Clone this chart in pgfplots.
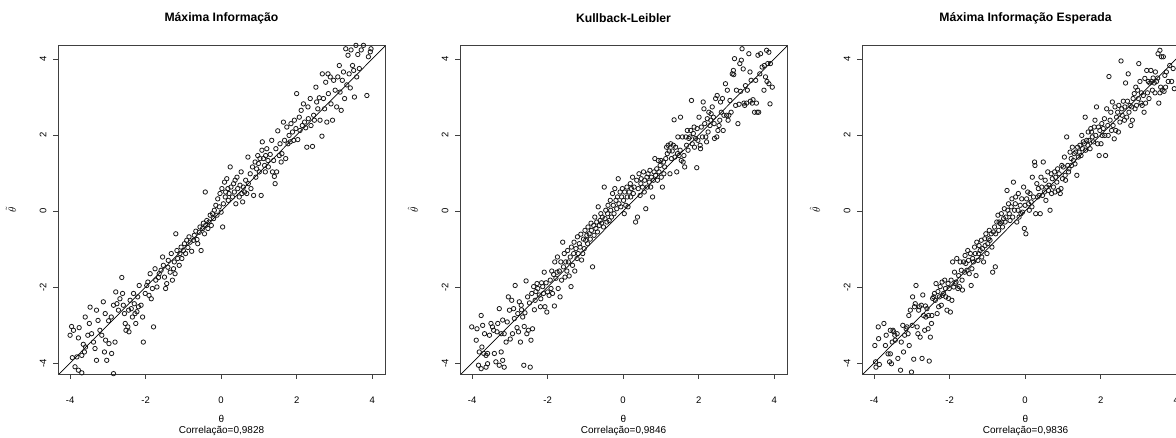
\documentclass[border=0pt]{standalone}
\usepackage{fontspec}
\setmainfont{Liberation Sans}
\usepackage{pgfplots}
\pgfplotsset{compat=1.18}
\pgfplotsset{
 panel/.style={
  scale only axis, width=327pt, height=329pt,
  xmin=-4.32, xmax=4.34, ymin=-4.29, ymax=4.37,
  xtick={-4,-2,0,2,4}, ytick={-4,-2,0,2,4},
  tick align=outside, tick pos=left, major tick length=5pt,
  axis line style={black!75, line width=0.8pt},
  every tick/.style={black!75, line width=0.8pt},
  /pgf/number format/assume math mode=true,
  xticklabel style={font=\fontsize{9.5}{11}\selectfont},
  yticklabel style={font=\fontsize{9.5}{11}\selectfont, rotate=90, anchor=south},
  xticklabel shift=14pt,
  yticklabel shift=3pt,
  title style={font=\bfseries\fontsize{12.2}{14}\selectfont, at={(axis description cs:0.5,1)}, anchor=center, yshift=21pt},
  xlabel style={font=\fontsize{10}{11}\selectfont, at={(axis description cs:0.5,0)}, anchor=north, yshift=-38pt, align=center},
  ylabel style={font=\fontsize{11}{12}\selectfont, at={(axis description cs:-0.144,0.5)}, anchor=center},
  anchor=south west,
 },
 pts/.style={only marks, mark=o, mark size=2.2pt, mark options={black!90, line width=0.8pt}},
 diag/.style={black, line width=0.7pt},
}
\begin{document}
\begin{tikzpicture}
\path[use as bounding box] (0,0) rectangle (1176pt,438pt);
% Panel 1
\begin{axis}[panel, at={(58pt,64pt)}, title={Máxima Informação},
  xlabel={θ\\Correlação=0,9828}, ylabel={$\tilde{\theta}$}]
\addplot[diag] coordinates {(-5,-5) (5,5)};
\addplot[pts] coordinates {
(-4.00,-3.27) (-3.96,-3.04) (-3.91,-3.14) (-3.76,-3.07) (-3.78,-3.34) (-3.94,-3.86) (-3.87,-4.10) (-3.82,-3.84) (-3.69,-3.80) (-3.62,-3.71) (-3.59,-3.58) (-3.65,-3.51) (-3.60,-2.79) (-3.47,-2.53) (-3.49,-2.96) (-3.53,-3.27) (-3.43,-3.23) (-3.38,-3.45) (-3.34,-3.62) (-3.30,-3.93) (-3.30,-2.61) (-3.26,-2.88) (-3.21,-3.14) (-3.16,-3.27) (-3.09,-3.71) (-3.03,-3.93) (-3.06,-3.40) (-2.97,-3.49) (-2.90,-3.75) (-2.81,-3.45) (-3.12,-2.39) (-3.07,-2.70) (-2.98,-2.89) (-2.91,-2.79) (-2.85,-2.48) (-2.79,-2.13) (-2.76,-2.44) (-2.72,-2.61) (-2.68,-2.31) (-2.63,-1.75) (-2.61,-2.17) (-2.59,-2.48) (-2.56,-2.70) (-2.54,-2.96) (-2.52,-3.14) (-2.47,-3.05) (-2.44,-3.18) (-2.41,-2.35) (-2.38,-2.57) (-2.35,-2.79) (-2.32,-2.17) (-2.30,-2.44) (-2.26,-2.96) (-2.23,-2.65) (-2.21,-2.26) (-2.17,-1.96) (-2.12,-2.48) (-2.08,-2.79) (-2.06,-3.45) (-2.19,-2.52) (-2.28,-2.70) (-2.45,-2.61) (-2.01,-2.17) (-1.97,-1.96) (-1.94,-1.87) (-1.91,-2.22) (-1.88,-1.65) (-1.85,-2.31) (-1.82,-2.04) (-1.79,-3.05) (-1.75,-1.52) (-1.73,-1.82) (-1.70,-2.00) (-1.66,-1.75) (-1.64,-1.65) (-1.59,-1.56) (-1.55,-1.21) (-1.53,-1.43) (-1.50,-1.74) (-1.47,-2.04) (-1.44,-1.91) (-1.41,-1.48) (-1.40,-1.30) (-1.35,-1.61) (-1.32,-1.12) (-1.29,-1.82) (-1.26,-1.52) (-1.24,-1.34) (-1.22,-1.65) (-1.20,-0.60) (-1.17,-1.04) (-1.15,-1.25) (-1.11,-1.43) (-1.09,-1.12) (-1.06,-0.95) (-1.04,-1.25) (-1.00,-1.04) (-0.97,-0.86) (-0.94,-1.12) (-0.91,-0.77) (-0.88,-0.96) (-0.85,-0.68) (-0.82,-0.82) (-0.78,-1.06) (-0.73,-0.77) (-0.71,-0.64) (-0.67,-0.53) (-0.64,-0.75) (-0.62,-0.86) (-0.58,-0.56) (-0.56,-0.42) (-0.53,-1.04) (-0.49,-0.46) (-0.47,-0.32) (-0.44,-0.60) (-0.41,-0.38) (-0.38,-0.25) (-0.35,-0.46) (-0.32,-0.29) (-0.29,-0.11) (-0.26,-0.38) (-0.23,-0.07) (-0.20,-0.20) (-0.18,0.02) (-0.42,0.50) (-0.14,0.15) (-0.11,-0.11) (-0.09,0.32) (-0.05,0.11) (-0.03,0.46) (0.00,-0.03) (0.02,0.59) (0.04,-0.42) (0.06,0.19) (0.09,0.76) (0.11,0.37) (0.12,0.50) (0.15,0.85) (0.18,0.59) (0.19,0.28) (0.21,0.46) (0.24,1.16) (0.26,0.63) (0.30,0.37) (0.33,0.72) (0.35,0.50) (0.37,0.81) (0.39,0.19) (0.42,0.89) (0.44,0.59) (0.48,0.37) (0.50,0.68) (0.53,1.03) (0.55,0.46) (0.57,0.24) (0.59,0.63) (0.62,0.50) (0.65,0.81) (0.68,0.46) (0.71,1.42) (0.72,0.72) (0.77,0.98) (0.79,0.59) (0.83,1.16) (0.86,0.41) (0.90,1.29) (0.92,0.89) (0.94,1.11) (0.97,1.46) (0.99,1.25) (1.01,1.03) (1.03,1.38) (1.06,0.41) (1.08,1.60) (1.09,1.82) (1.12,1.38) (1.15,1.20) (1.17,1.03) (1.18,1.46) (1.21,1.64) (1.24,1.33) (1.25,1.16) (1.30,1.49) (1.34,1.86) (1.36,1.03) (1.39,1.33) (1.41,0.91) (1.43,0.72) (1.45,1.64) (1.47,1.03) (1.50,2.11) (1.54,1.46) (1.56,1.77) (1.59,1.29) (1.61,1.51) (1.65,2.34) (1.68,1.86) (1.71,1.38) (1.74,2.21) (1.77,1.77) (1.80,1.99) (1.83,1.82) (1.85,2.30) (1.89,2.08) (1.92,1.86) (1.94,2.39) (1.98,2.17) (2.00,3.09) (2.03,1.88) (2.07,2.47) (2.09,2.12) (2.12,2.65) (2.15,2.25) (2.18,2.82) (2.21,2.34) (2.24,2.19) (2.27,1.68) (2.30,2.74) (2.31,2.43) (2.36,2.96) (2.38,2.25) (2.42,1.70) (2.45,2.52) (2.47,2.39) (2.51,3.26) (2.53,2.87) (2.56,2.69) (2.60,2.98) (2.62,2.39) (2.67,1.97) (2.68,3.61) (2.71,2.96) (2.74,2.69) (2.77,3.39) (2.80,2.34) (2.83,3.61) (2.84,3.09) (2.89,3.53) (2.91,2.82) (2.95,2.39) (2.98,3.44) (3.02,3.18) (3.06,2.74) (3.09,3.53) (3.13,3.83) (3.15,3.13) (3.18,2.65) (3.21,3.44) (3.24,3.66) (3.27,2.96) (3.30,4.27) (3.33,3.32) (3.36,4.10) (3.39,3.61) (3.42,3.24) (3.44,4.24) (3.48,3.83) (3.51,3.70) (3.53,3.00) (3.57,4.36) (3.59,3.53) (3.62,4.12) (3.66,3.75) (3.71,4.24) (3.77,4.36) (3.86,3.04) (3.90,4.06) (3.95,4.19) (3.97,4.27) (-3.78,-4.19) (-3.69,-4.26) (-2.85,-4.28)
};
\end{axis}
% Panel 2
\begin{axis}[panel, at={(460pt,64pt)}, title={Kullback-Leibler},
  xlabel={θ\\Correlação=0,9846}, ylabel={$\hat{\theta}$}]
\addplot[diag] coordinates {(-5,-5) (5,5)};
\addplot[pts] coordinates {
(-4.01,-3.05) (-3.89,-3.40) (-3.87,-3.10) (-3.76,-2.75) (-3.72,-3.01) (-3.81,-3.71) (-3.74,-3.58) (-3.69,-3.75) (-3.63,-3.80) (-3.59,-3.75) (-3.83,-4.06) (-3.76,-4.15) (-3.63,-4.11) (-3.59,-4.02) (-3.67,-3.23) (-3.54,-3.27) (-3.50,-2.96) (-3.46,-3.05) (-3.43,-3.14) (-3.41,-3.75) (-3.37,-3.97) (-3.28,-4.06) (-3.23,-3.71) (-3.19,-3.93) (-3.15,-4.11) (-3.34,-3.18) (-3.32,-2.96) (-3.28,-2.57) (-3.23,-3.23) (-3.19,-2.87) (-3.15,-3.23) (-3.10,-3.45) (-3.07,-2.92) (-3.04,-2.26) (-3.01,-2.61) (-2.99,-3.37) (-2.95,-2.35) (-2.93,-3.23) (-2.90,-2.57) (-2.88,-2.83) (-2.86,-1.96) (-2.81,-3.07) (-2.79,-2.70) (-2.77,-3.18) (-2.75,-2.39) (-2.72,-3.45) (-2.70,-2.48) (-2.69,-2.60) (-2.66,-2.79) (-2.63,-4.06) (-2.62,-3.04) (-2.60,-2.68) (-2.57,-1.84) (-2.55,-3.23) (-2.53,-2.26) (-2.51,-3.14) (-2.48,-2.42) (-2.46,-4.11) (-2.44,-3.40) (-2.42,-2.17) (-2.40,-3.10) (-2.37,-1.99) (-2.35,-2.60) (-2.33,-2.35) (-2.31,-2.12) (-2.28,-1.91) (-2.26,-2.04) (-2.22,-2.21) (-2.19,-2.52) (-2.18,-2.31) (-2.16,-1.89) (-2.13,-1.99) (-2.11,-2.17) (-2.09,-1.61) (-2.07,-2.52) (-2.04,-1.89) (-2.02,-2.66) (-2.00,-2.13) (-1.96,-2.22) (-1.93,-1.82) (-1.91,-2.04) (-1.89,-1.58) (-1.87,-2.17) (-1.84,-1.67) (-1.82,-2.50) (-1.81,-1.34) (-1.78,-1.77) (-1.75,-1.61) (-1.74,-1.21) (-1.72,-2.04) (-1.69,-1.58) (-1.67,-2.26) (-1.65,-1.34) (-1.63,-1.82) (-1.60,-0.82) (-1.58,-1.47) (-1.56,-1.12) (-1.54,-1.74) (-1.52,-1.34) (-1.49,-1.58) (-1.47,-1.04) (-1.45,-1.34) (-1.43,-1.71) (-1.40,-1.21) (-1.38,-1.99) (-1.37,-0.95) (-1.34,-1.43) (-1.31,-1.12) (-1.30,-0.82) (-1.28,-1.58) (-1.25,-0.99) (-1.22,-1.25) (-1.21,-0.68) (-1.19,-1.12) (-1.16,-0.86) (-1.14,-0.95) (-1.12,-0.61) (-1.10,-1.29) (-1.07,-1.12) (-1.05,-0.74) (-1.03,-0.99) (-1.01,-0.51) (-0.99,-0.77) (-0.96,-0.64) (-0.94,-0.86) (-0.93,-0.42) (-0.90,-0.60) (-0.87,-0.74) (-0.85,-0.32) (-0.84,-0.51) (-0.81,-1.47) (-0.78,-0.38) (-0.77,-0.64) (-0.75,-0.16) (-0.72,-0.46) (-0.70,-0.29) (-0.68,-0.55) (-0.66,0.11) (-0.63,-0.38) (-0.61,-0.25) (-0.59,-0.07) (-0.57,-0.32) (-0.55,-0.16) (-0.52,-0.42) (-0.50,0.63) (-0.48,-0.20) (-0.46,0.02) (-0.43,-0.29) (-0.41,-0.07) (-0.40,0.15) (-0.37,-0.25) (-0.34,0.28) (-0.33,0.02) (-0.31,-0.16) (-0.28,0.46) (-0.26,0.15) (-0.24,-0.07) (-0.22,0.59) (-0.19,0.28) (-0.17,0.06) (-0.15,0.37) (-0.13,0.85) (-0.11,0.19) (-0.08,0.50) (-0.06,0.11) (-0.04,0.37) (-0.02,0.59) (0.01,0.28) (0.03,-0.07) (0.04,0.50) (0.07,0.15) (0.10,0.63) (0.11,0.37) (0.13,0.11) (0.16,0.50) (0.19,0.72) (0.20,0.37) (0.22,0.59) (0.25,0.89) (0.27,0.46) (0.29,0.63) (0.33,-0.29) (0.36,0.81) (0.38,-0.16) (0.40,0.59) (0.42,0.98) (0.45,0.41) (0.47,0.72) (0.48,0.85) (0.51,0.63) (0.54,1.03) (0.56,0.50) (0.57,0.81) (0.60,0.06) (0.63,0.89) (0.64,0.63) (0.66,0.98) (0.69,0.76) (0.71,1.07) (0.73,0.63) (0.75,0.89) (0.78,0.37) (0.80,0.81) (0.82,1.03) (0.84,1.38) (0.86,0.94) (0.89,1.11) (0.91,0.81) (0.93,1.33) (0.95,1.03) (0.98,1.20) (1.00,1.33) (1.01,0.89) (1.04,0.63) (1.07,1.29) (1.08,0.98) (1.10,1.16) (1.13,1.38) (1.15,1.68) (1.17,1.51) (1.19,1.73) (1.22,1.58) (1.24,0.98) (1.26,1.77) (1.28,1.38) (1.30,1.58) (1.33,1.73) (1.35,2.40) (1.37,1.42) (1.39,1.68) (1.42,1.03) (1.44,1.51) (1.45,1.95) (1.48,1.46) (1.51,1.60) (1.52,2.47) (1.54,1.33) (1.57,1.95) (1.59,1.29) (1.61,1.46) (1.63,1.16) (1.66,1.95) (1.68,1.73) (1.70,2.12) (1.72,1.60) (1.74,1.91) (1.77,1.95) (1.79,2.12) (1.81,2.91) (1.83,1.77) (1.86,2.04) (1.88,2.21) (1.89,1.68) (1.92,1.91) (1.95,1.14) (1.96,2.17) (1.98,1.86) (2.01,2.47) (2.04,1.73) (2.05,1.64) (2.07,2.21) (2.10,1.95) (2.12,2.87) (2.14,2.69) (2.16,2.30) (2.19,1.95) (2.21,1.82) (2.23,2.43) (2.25,2.08) (2.27,2.60) (2.30,2.25) (2.32,2.39) (2.33,2.56) (2.36,2.74) (2.39,2.47) (2.41,2.30) (2.42,1.91) (2.45,2.96) (2.48,1.95) (2.49,3.04) (2.51,2.12) (2.54,2.25) (2.56,2.39) (2.58,2.87) (2.60,2.60) (2.63,2.96) (2.65,2.12) (2.67,2.52) (2.71,3.35) (2.74,2.52) (2.76,3.18) (2.78,2.39) (2.80,2.52) (2.83,2.91) (2.86,2.60) (2.89,3.61) (2.92,3.70) (2.93,3.59) (2.95,4.01) (2.98,2.78) (3.00,3.18) (3.04,2.30) (3.07,2.81) (3.09,3.88) (3.11,3.15) (3.13,3.97) (3.15,4.27) (3.18,3.74) (3.20,2.84) (3.22,2.78) (3.24,3.30) (3.27,2.84) (3.29,3.18) (3.33,4.14) (3.36,3.66) (3.37,2.89) (3.39,3.44) (3.42,2.84) (3.44,2.93) (3.48,2.60) (3.51,3.44) (3.53,2.84) (3.55,2.60) (3.57,4.10) (3.59,2.60) (3.62,3.61) (3.64,4.14) (3.68,3.79) (3.73,3.18) (3.74,3.83) (3.77,3.53) (3.80,4.23) (3.81,3.41) (3.83,3.88) (3.86,3.35) (3.89,2.82) (3.90,3.88) (3.95,3.26) (3.86,4.18)
};
\end{axis}
% Panel 3
\begin{axis}[panel, at={(862pt,64pt)}, title={Máxima Informação Esperada},
  xlabel={θ\\Correlação=0,9836}, ylabel={$\hat{\theta}$}]
\addplot[diag] coordinates {(-5,-5) (5,5)};
\addplot[pts] coordinates {
(-3.98,-3.54) (-3.96,-3.97) (-3.95,-4.11) (-3.88,-3.36) (-3.89,-3.05) (-3.86,-4.04) (-3.74,-2.96) (-3.70,-3.54) (-3.68,-3.27) (-3.63,-3.76) (-3.59,-3.97) (-3.57,-3.76) (-3.54,-4.02) (-3.57,-3.14) (-3.52,-3.45) (-3.50,-3.14) (-3.48,-3.18) (-3.45,-3.27) (-3.44,-3.40) (-3.39,-3.23) (-3.37,-3.88) (-3.30,-4.19) (-3.28,-3.45) (-3.24,-3.01) (-3.22,-3.71) (-3.19,-3.27) (-3.15,-3.10) (-3.13,-3.05) (-3.10,-3.23) (-3.08,-2.75) (-3.07,-3.54) (-3.04,-2.61) (-3.01,-4.24) (-2.99,-3.01) (-2.98,-2.26) (-2.95,-3.90) (-2.93,-2.52) (-2.91,-2.44) (-2.89,-1.96) (-2.86,-3.05) (-2.84,-3.23) (-2.82,-2.61) (-2.80,-2.52) (-2.78,-3.32) (-2.75,-2.48) (-2.73,-3.88) (-2.71,-2.21) (-2.69,-2.75) (-2.66,-3.14) (-2.64,-2.50) (-2.63,-2.79) (-2.60,-2.57) (-2.57,-3.10) (-2.56,-2.75) (-2.54,-3.95) (-2.51,-3.32) (-2.48,-2.96) (-2.47,-2.75) (-2.45,-2.30) (-2.42,-2.26) (-2.40,-2.17) (-2.38,-2.35) (-2.36,-1.91) (-2.33,-2.70) (-2.31,-2.12) (-2.29,-2.52) (-2.27,-2.26) (-2.25,-1.99) (-2.22,-2.48) (-2.20,-1.87) (-2.19,-2.22) (-2.16,-2.17) (-2.13,-1.82) (-2.11,-2.04) (-2.10,-2.26) (-2.07,-2.61) (-2.04,-1.91) (-2.03,-2.30) (-2.01,-2.04) (-1.98,-2.66) (-1.96,-1.82) (-1.94,-2.35) (-1.92,-1.34) (-1.89,-2.00) (-1.87,-1.61) (-1.85,-1.91) (-1.83,-1.87) (-1.81,-1.25) (-1.78,-2.04) (-1.76,-1.70) (-1.74,-1.99) (-1.72,-1.34) (-1.69,-1.56) (-1.67,-1.82) (-1.66,-2.08) (-1.63,-1.34) (-1.60,-1.61) (-1.59,-1.17) (-1.57,-1.38) (-1.54,-1.56) (-1.52,-1.04) (-1.50,-1.30) (-1.48,-1.65) (-1.45,-1.12) (-1.43,-1.96) (-1.41,-1.52) (-1.39,-1.25) (-1.37,-1.34) (-1.34,-0.95) (-1.32,-1.12) (-1.30,-1.70) (-1.28,-0.82) (-1.25,-1.30) (-1.23,-1.12) (-1.22,-0.91) (-1.19,-1.04) (-1.16,-0.77) (-1.15,-1.21) (-1.13,-0.99) (-1.10,-1.34) (-1.07,-0.73) (-1.06,-0.91) (-1.04,-0.60) (-1.01,-1.12) (-0.99,-0.86) (-0.97,-0.73) (-0.95,-0.51) (-0.93,-0.77) (-0.90,-0.60) (-0.88,-0.95) (-0.86,-1.61) (-0.84,-0.55) (-0.81,-0.42) (-0.79,-1.47) (-0.78,-0.60) (-0.75,-0.29) (-0.72,-0.11) (-0.70,-0.51) (-0.69,-0.29) (-0.66,-0.33) (-0.63,-0.07) (-0.62,-0.29) (-0.60,-0.42) (-0.57,-0.20) (-0.55,0.06) (-0.53,-0.29) (-0.51,-0.16) (-0.48,0.54) (-0.46,0.02) (-0.44,0.19) (-0.42,-0.07) (-0.40,-0.25) (-0.37,0.11) (-0.35,0.32) (-0.33,-0.16) (-0.31,0.76) (-0.28,0.02) (-0.26,0.19) (-0.25,0.37) (-0.22,-0.29) (-0.19,0.02) (-0.18,0.46) (-0.16,-0.16) (-0.13,0.15) (-0.11,-0.07) (-0.09,0.32) (-0.07,-0.03) (-0.04,0.63) (-0.02,-0.46) (0.00,0.15) (0.02,-0.60) (0.04,0.32) (0.07,0.50) (0.09,0.19) (0.11,0.02) (0.13,0.46) (0.16,0.24) (0.18,0.11) (0.19,0.89) (0.22,0.37) (0.25,1.29) (0.26,1.20) (0.28,-0.07) (0.31,0.72) (0.33,0.37) (0.35,0.59) (0.37,0.41) (0.40,-0.07) (0.42,0.89) (0.44,0.63) (0.46,0.41) (0.48,1.29) (0.51,0.50) (0.53,0.81) (0.55,0.28) (0.57,0.63) (0.60,1.03) (0.62,0.54) (0.63,0.68) (0.66,0.02) (0.69,0.98) (0.70,0.46) (0.72,0.85) (0.75,0.63) (0.78,1.03) (0.79,0.50) (0.81,0.89) (0.84,0.76) (0.86,1.11) (0.88,0.54) (0.90,0.98) (0.93,0.46) (0.95,0.59) (0.97,1.20) (0.99,0.85) (1.01,1.16) (1.04,1.42) (1.06,0.94) (1.07,0.81) (1.10,1.95) (1.13,1.20) (1.15,1.03) (1.16,1.11) (1.19,1.55) (1.22,1.38) (1.23,1.20) (1.25,1.68) (1.28,1.33) (1.30,1.51) (1.32,1.24) (1.34,1.55) (1.37,0.94) (1.39,1.68) (1.41,1.42) (1.43,1.55) (1.45,1.73) (1.48,1.46) (1.50,1.99) (1.52,1.64) (1.54,1.82) (1.57,1.77) (1.59,2.47) (1.60,1.60) (1.63,1.86) (1.66,1.73) (1.67,2.08) (1.69,1.86) (1.72,1.64) (1.74,2.17) (1.76,2.08) (1.78,1.95) (1.81,1.82) (1.83,2.21) (1.85,2.39) (1.87,1.99) (1.89,2.74) (1.92,1.77) (1.94,2.21) (1.96,1.46) (1.98,2.12) (2.01,1.77) (2.03,2.30) (2.04,1.99) (2.07,2.17) (2.10,2.43) (2.11,1.99) (2.13,1.46) (2.16,2.69) (2.19,2.25) (2.20,1.99) (2.22,3.54) (2.25,2.39) (2.27,2.60) (2.29,2.12) (2.31,2.87) (2.33,2.25) (2.36,1.90) (2.38,2.74) (2.40,2.12) (2.42,2.47) (2.45,2.60) (2.47,2.08) (2.48,2.78) (2.51,2.34) (2.54,3.95) (2.56,2.69) (2.57,2.52) (2.60,2.89) (2.63,2.39) (2.64,2.74) (2.66,3.37) (2.69,2.47) (2.71,2.89) (2.73,3.61) (2.75,2.60) (2.78,2.78) (2.80,2.25) (2.82,2.74) (2.84,2.39) (2.86,2.96) (2.89,3.09) (2.91,2.69) (2.93,3.26) (2.95,2.78) (2.98,3.18) (3.00,2.96) (3.01,3.88) (3.04,3.41) (3.07,2.84) (3.08,3.11) (3.10,2.78) (3.13,3.04) (3.15,2.60) (3.17,3.49) (3.19,2.84) (3.22,3.70) (3.24,3.11) (3.26,3.41) (3.28,2.96) (3.30,3.37) (3.33,3.70) (3.35,3.41) (3.37,3.18) (3.39,3.50) (3.42,3.37) (3.44,3.11) (3.45,3.66) (3.48,3.41) (3.51,3.50) (3.52,4.14) (3.54,2.84) (3.57,3.11) (3.59,3.26) (3.61,4.06) (3.63,3.18) (3.66,4.06) (3.68,3.15) (3.70,3.57) (3.72,3.26) (3.74,3.66) (3.79,3.41) (3.83,3.83) (3.88,3.41) (3.92,3.75) (3.95,3.22) (3.57,4.23)
};
\end{axis}
\end{tikzpicture}
\end{document}
